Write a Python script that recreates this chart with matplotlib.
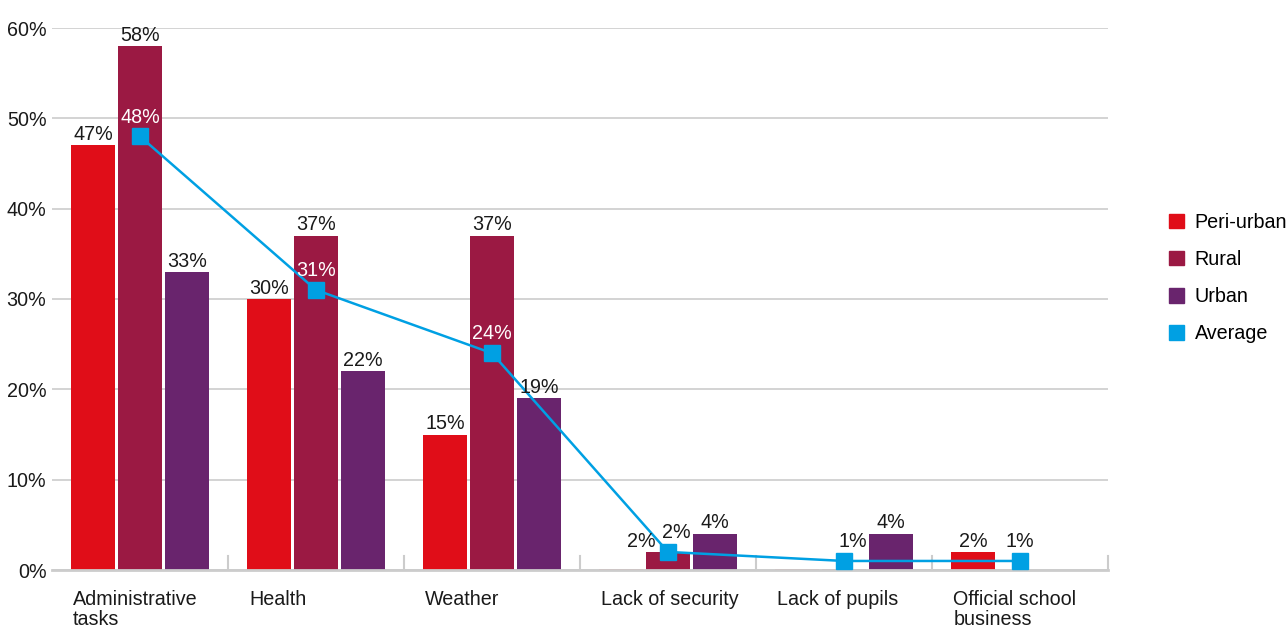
import matplotlib
matplotlib.use("Agg")
import matplotlib.pyplot as plt
from matplotlib.transforms import blended_transform_factory
import numpy as np

plt.rcParams['font.family'] = ['Liberation Sans', 'DejaVu Sans']

categories = ["Administrative\ntasks", "Health", "Weather", "Lack of security",
              "Lack of pupils", "Official school\nbusiness"]
peri_urban = [47, 30, 15, 0, 0, 2]
rural = [58, 37, 37, 2, 0, None]
urban = [33, 22, 19, 4, 4, None]
average = [48, 31, 24, 2, 1, 1]
y_ticks = [0, 10, 20, 30, 40, 50, 60]

colors = {"Peri-urban": "#E00D18", "Rural": "#9B1943", "Urban": "#69246D", "Average": "#00A0E3"}
FS = 14.2
TXT = "#1a1a1a"

fig = plt.figure(figsize=(12.87, 6.28), dpi=100)
ax = fig.add_axes([52 / 1287, 1 - 570 / 628, (1108 - 52) / 1287, (570 - 28) / 628])

x = np.arange(len(categories))
off = 0.267
w = 0.245

series = [("Peri-urban", peri_urban, -off), ("Rural", rural, 0.0), ("Urban", urban, off)]
for name, vals, dx in series:
    for i, v in enumerate(vals):
        if v is None:
            continue
        if v == 0:
            ax.bar(x[i] + dx, 0.12, width=w, color=colors[name], alpha=0.35, zorder=2, linewidth=0)
            continue
        ax.bar(x[i] + dx, v, width=w, color=colors[name], zorder=2, linewidth=0)
        lx, ha = x[i] + dx, "center"
        if name == "Rural" and average[i] is not None and abs(average[i] - v) < 3:
            lx, ha = x[i] + dx - 0.07, "right"
        ax.annotate(f"{v}%", (lx, v), xytext=(0, 1), textcoords="offset points",
                    ha=ha, va="bottom", fontsize=FS, color=TXT, zorder=5)

# Average line with square markers
ax.plot(x, average, color=colors["Average"], lw=1.8, marker="s", markersize=12,
        zorder=4, label="Average")
for i, v in enumerate(average):
    inside = rural[i] is not None and rural[i] > v + 4
    dx = 0.05 if (rural[i] is not None and abs(rural[i] - v) < 3) else 0
    ax.annotate(f"{v}%", (x[i] + dx, v), xytext=(0, 7), textcoords="offset points",
                ha="center", va="bottom", fontsize=FS,
                color="white" if inside else TXT, zorder=5)

ax.set_xlim(-0.5, len(categories) - 0.5)
ax.set_ylim(0, 60)
ax.set_yticks(y_ticks)
ax.set_yticklabels([f"{t}%" for t in y_ticks], fontsize=FS, color=TXT)
ax.yaxis.grid(True, color="#cccccc", lw=1.2, zorder=0)
ax.tick_params(axis="y", length=0, pad=4)
ax.set_xticks([])
for s in ["left", "right", "top"]:
    ax.spines[s].set_visible(False)
ax.spines["bottom"].set_color("#cccccc")
ax.spines["bottom"].set_linewidth(2)

# Category separators
for b in np.arange(0.5, len(categories), 1.0):
    ax.plot([b, b], [0, 1.6], color="#cccccc", lw=1.5, zorder=1, clip_on=False)

# Category labels, left aligned under the first bar of each group
trans = blended_transform_factory(ax.transData, ax.transAxes)
for i, c in enumerate(categories):
    ax.text(x[i] - off - w / 2 + 0.01, -0.036, c, transform=trans, ha="left", va="top",
            fontsize=FS, color=TXT, linespacing=1.1)

# Legend
handles = [plt.Rectangle((0, 0), 1, 1, color=colors[k]) for k in colors]
fig.legend(handles, list(colors.keys()), loc="upper left", bbox_to_anchor=(1161 / 1287, 1 - 205 / 628),
           frameon=False, fontsize=FS, handlelength=0.75, handleheight=0.75,
           handletextpad=0.55, labelspacing=0.92, borderaxespad=0)

fig.savefig("out.png", dpi=100)
